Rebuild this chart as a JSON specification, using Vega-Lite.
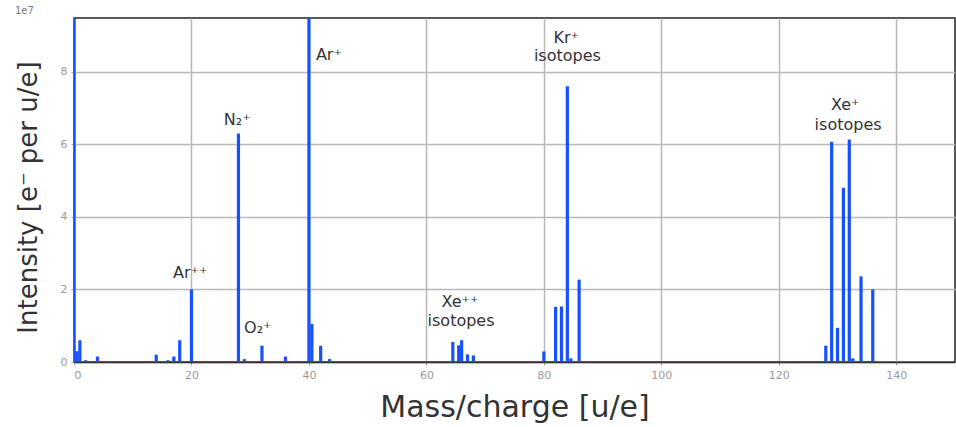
{
  "$schema": "https://vega.github.io/schema/vega-lite/v6.json",
  "autosize": "none",
  "width": 881,
  "height": 344,
  "padding": {"left": 74, "top": 18, "right": 1, "bottom": 65},
  "background": "white",
  "config": {
    "font": "DejaVu Sans",
    "view": {"stroke": "#222222", "strokeWidth": 1.5},
    "axis": {
      "gridColor": "#b8b8b8",
      "gridWidth": 1.5,
      "labelColor": "#999999",
      "labelFontSize": 11,
      "tickColor": "#999999",
      "tickSize": 3,
      "domainColor": "#333333",
      "domainWidth": 1.5,
      "titleColor": "#333333",
      "titleFontSize": 26,
      "titleFontWeight": "normal"
    }
  },
  "title": {"text": "1e7", "anchor": "start", "fontSize": 10, "fontWeight": "normal", "color": "#777777", "offset": 2, "font": "DejaVu Sans"},
  "datasets": {
    "peaks": [
      {"mass": 0, "intensity": 120000000},
      {"mass": 0.5, "intensity": 3000000},
      {"mass": 1, "intensity": 6000000},
      {"mass": 2, "intensity": 500000},
      {"mass": 4, "intensity": 1500000},
      {"mass": 14, "intensity": 2000000},
      {"mass": 16, "intensity": 500000},
      {"mass": 17, "intensity": 1500000},
      {"mass": 18, "intensity": 6000000},
      {"mass": 20, "intensity": 20000000},
      {"mass": 28, "intensity": 63000000},
      {"mass": 29, "intensity": 800000},
      {"mass": 32, "intensity": 4500000},
      {"mass": 36, "intensity": 1500000},
      {"mass": 38, "intensity": 300000},
      {"mass": 40, "intensity": 120000000},
      {"mass": 40.5, "intensity": 10500000},
      {"mass": 42, "intensity": 4500000},
      {"mass": 43.5, "intensity": 800000},
      {"mass": 64.5, "intensity": 5500000},
      {"mass": 65.5, "intensity": 4600000},
      {"mass": 66, "intensity": 6000000},
      {"mass": 67, "intensity": 2100000},
      {"mass": 68, "intensity": 1800000},
      {"mass": 78, "intensity": 200000},
      {"mass": 80, "intensity": 2900000},
      {"mass": 82, "intensity": 15200000},
      {"mass": 83, "intensity": 15300000},
      {"mass": 84, "intensity": 76000000},
      {"mass": 84.6, "intensity": 1000000},
      {"mass": 86, "intensity": 22700000},
      {"mass": 124, "intensity": 100000},
      {"mass": 126, "intensity": 100000},
      {"mass": 128, "intensity": 4500000},
      {"mass": 129, "intensity": 60700000},
      {"mass": 130, "intensity": 9400000},
      {"mass": 131, "intensity": 48000000},
      {"mass": 132, "intensity": 61300000},
      {"mass": 132.6, "intensity": 1000000},
      {"mass": 134, "intensity": 23600000},
      {"mass": 136, "intensity": 20000000}
    ],
    "baseline": [{"start": 0, "end": 136.6, "level": 0}],
    "labels": [
      {"text": "Ar⁺⁺", "mass": 19.8, "intensity": 24500000},
      {"text": "N₂⁺", "mass": 27.8, "intensity": 66700000},
      {"text": "O₂⁺", "mass": 31.3, "intensity": 9300000},
      {"text": "Ar⁺", "mass": 43.4, "intensity": 84600000},
      {"text": "Kr⁺", "mass": 83.8, "intensity": 89300000},
      {"text": "isotopes", "mass": 84.0, "intensity": 84300000},
      {"text": "Xe⁺⁺", "mass": 65.7, "intensity": 16500000},
      {"text": "isotopes", "mass": 65.9, "intensity": 11200000},
      {"text": "Xe⁺", "mass": 131.3, "intensity": 70800000},
      {"text": "isotopes", "mass": 131.8, "intensity": 65300000}
    ]
  },
  "layer": [
    {
      "data": {"name": "baseline"},
      "mark": {"type": "rule", "color": "#1650ff", "strokeWidth": 2, "clip": true},
      "encoding": {
        "x": {"field": "start", "type": "quantitative", "scale": {"domain": [0, 150], "nice": false, "zero": false},
          "axis": {"title": "Mass/charge [u/e]", "titleFontSize": 30, "values": [0, 20, 40, 60, 80, 100, 120, 140], "titleY": 45, "titleBaseline": "middle", "labelPadding": 4}},
        "x2": {"field": "end"},
        "y": {"field": "level", "type": "quantitative", "scale": {"domain": [0, 94800000], "nice": false},
          "axis": {"title": "Intensity [e⁻ per u/e]", "values": [0, 20000000, 40000000, 60000000, 80000000], "labelExpr": "format(datum.value / 10000000, 'd')", "titleX": -46, "titleY": 179, "titleBaseline": "middle", "labelPadding": 4}}
      }
    },
    {
      "data": {"name": "peaks"},
      "mark": {"type": "rule", "color": "#1650ff", "strokeWidth": 3.2, "clip": true},
      "encoding": {
        "x": {"field": "mass", "type": "quantitative"},
        "y": {"field": "intensity", "type": "quantitative"},
        "y2": {"datum": 0}
      }
    },
    {
      "data": {"name": "labels"},
      "mark": {"type": "text", "fontSize": 16, "color": "#333333", "align": "center", "baseline": "middle"},
      "encoding": {
        "x": {"field": "mass", "type": "quantitative"},
        "y": {"field": "intensity", "type": "quantitative"},
        "text": {"field": "text"}
      }
    }
  ]
}
